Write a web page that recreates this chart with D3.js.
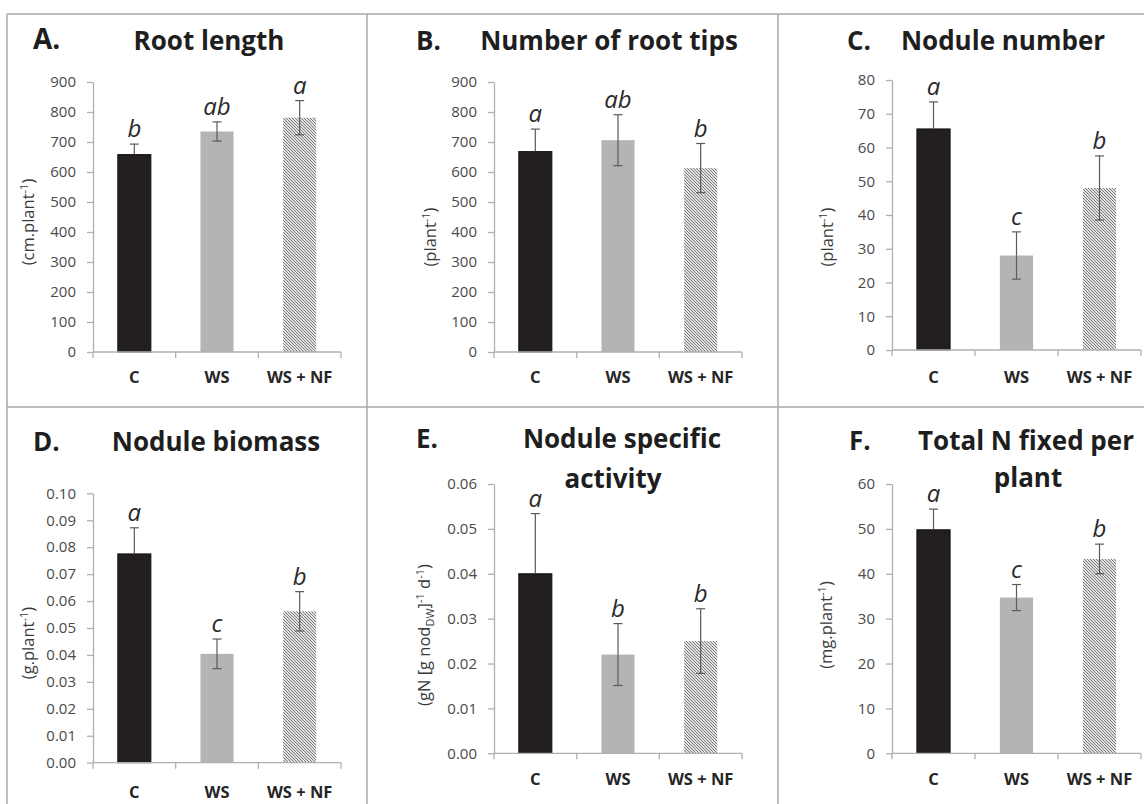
<!DOCTYPE html>
<html>
<head>
<meta charset="utf-8">
<script src="https://cdn.jsdelivr.net/npm/d3@7"></script>
<style>
  body { margin: 0; background: #fff; }
  svg { display: block; font-family: "Open Sans", sans-serif; }
</style>
</head>
<body>
<svg id="chart" width="1144" height="804"></svg>
<script>
//DATA
const categories = ["C", "WS", "WS + NF"];

const rootLength = [658, 735, 781];
const rootLengthErr = [35, 32, 57];
const rootLengthLetters = ["b", "ab", "a"];

const rootTips = [668, 706, 613];
const rootTipsErr = [75, 85, 82];
const rootTipsLetters = ["a", "ab", "b"];

const noduleNumber = [65.5, 28, 48];
const noduleNumberErr = [8, 7, 9.5];
const noduleNumberLetters = ["a", "c", "b"];

const noduleBiomass = [0.0775, 0.0404, 0.0562];
const noduleBiomassErr = [0.0097, 0.0055, 0.0073];
const noduleBiomassLetters = ["a", "c", "b"];

const specificActivity = [0.040, 0.022, 0.025];
const specificActivityErr = [0.0134, 0.0069, 0.0072];
const specificActivityLetters = ["a", "b", "b"];

const totalNFixed = [49.8, 34.7, 43.3];
const totalNFixedErr = [4.6, 2.9, 3.3];
const totalNFixedLetters = ["a", "c", "b"];

//tick labels
const ticks900 = [0, 100, 200, 300, 400, 500, 600, 700, 800, 900];
const ticks80 = [0, 10, 20, 30, 40, 50, 60, 70, 80];
const ticksBiomass = [0, 0.01, 0.02, 0.03, 0.04, 0.05, 0.06, 0.07, 0.08, 0.09, 0.10];
const ticksActivity = [0, 0.01, 0.02, 0.03, 0.04, 0.05, 0.06];
const ticks60 = [0, 10, 20, 30, 40, 50, 60];

//CONFIG
const barFills = ["#231f20", "#b4b4b4", "url(#hatch)"];
const barFraction = 0.4; //bar width relative to category step
const axisColor = "#b0b0b0";
const labelColor = "#4a4a4a";
const errColor = "#5a5a5a";

//one entry per panel; plot = [left, right, topPixel(max tick), zeroPixel]
const panels = [
  { key: "A.", title: ["Root length"], values: rootLength, err: rootLengthErr, letters: rootLengthLetters,
    ticks: ticks900, fmt: d3.format("d"), ylab: [["(cm.plant", 0], ["-1", 1], [")", 0]],
    plot: [93, 341, 82, 352], keyPos: [33, 49], titleX: [209], titleY: [50], ylabPos: [28, 222], xlabDy: 31, keySize: 28 },
  { key: "B.", title: ["Number of root tips"], values: rootTips, err: rootTipsErr, letters: rootTipsLetters,
    ticks: ticks900, fmt: d3.format("d"), ylab: [["(plant", 0], ["-1", 1], [")", 0]],
    plot: [494, 742, 82, 352], keyPos: [416, 50], titleX: [609], titleY: [50], ylabPos: [430, 237], xlabDy: 31, keySize: 26 },
  { key: "C.", title: ["Nodule number"], values: noduleNumber, err: noduleNumberErr, letters: noduleNumberLetters,
    ticks: ticks80, fmt: d3.format("d"), ylab: [["(plant", 0], ["-1", 1], [")", 0]],
    plot: [892, 1141, 80, 350], keyPos: [847, 50], titleX: [1003], titleY: [50], ylabPos: [827, 237], xlabDy: 33, keySize: 26 },
  { key: "D.", title: ["Nodule biomass"], values: noduleBiomass, err: noduleBiomassErr, letters: noduleBiomassLetters,
    ticks: ticksBiomass, fmt: d3.format(".2f"), ylab: [["(g.plant", 0], ["-1", 1], [")", 0]],
    plot: [93, 341, 493.3, 762.7], keyPos: [33, 451], titleX: [216], titleY: [451], ylabPos: [28, 643], xlabDy: 35, keySize: 26 },
  { key: "E.", title: ["Nodule specific", "activity"], values: specificActivity, err: specificActivityErr, letters: specificActivityLetters,
    ticks: ticksActivity, fmt: d3.format(".2f"),
    ylab: [["(gN [g nod", 0], ["DW", -1], ["]", 0], ["-1", 1], [" d", 0], ["-1", 1], [")", 0]],
    plot: [494, 742, 484, 753.3], keyPos: [416, 448], titleX: [622, 613], titleY: [448, 488], ylabPos: [424, 635], xlabDy: 32, keySize: 26 },
  { key: "F.", title: ["Total N fixed per", "plant"], values: totalNFixed, err: totalNFixedErr, letters: totalNFixedLetters,
    ticks: ticks60, fmt: d3.format("d"), ylab: [["(mg.plant", 0], ["-1", 1], [")", 0]],
    plot: [892, 1141, 484, 753.3], keyPos: [849, 450], titleX: [1026, 1028], titleY: [450, 487], ylabPos: [826, 625], xlabDy: 32, keySize: 26 }
];

const svg = d3.select("#chart");

//hatch pattern for WS + NF bars
const defs = svg.append("defs");
const pat = defs.append("pattern")
  .attr("id", "hatch")
  .attr("patternUnits", "userSpaceOnUse")
  .attr("width", 3)
  .attr("height", 3);
pat.append("rect").attr("width", 3).attr("height", 3).attr("fill", "#e2e2e2");
pat.append("path")
  .attr("d", "M0,0 L3,3 M-1,2 L1,4 M2,-1 L4,1")
  .attr("stroke", "#6f6f6f")
  .attr("stroke-width", 0.9);

//panel frame lines
const frame = svg.append("g").attr("stroke", "#a8a8a8").attr("stroke-width", 1.5);
frame.append("line").attr("x1", 7).attr("x2", 1144).attr("y1", 14).attr("y2", 14);
frame.append("line").attr("x1", 7).attr("x2", 1144).attr("y1", 407).attr("y2", 407);
[7, 367, 778].forEach(function (x) {
  frame.append("line").attr("x1", x).attr("x2", x).attr("y1", 14).attr("y2", 804);
});

panels.forEach(drawPanel);

function drawPanel(p) {
  const [left, right, top, zero] = p.plot;
  const maxTick = p.ticks[p.ticks.length - 1];

  const x = d3.scaleBand().domain(categories).range([left, right]).padding(0);
  const y = d3.scaleLinear().domain([0, maxTick]).range([zero, top]);

  const g = svg.append("g");

  // Y axis
  const yAxis = g.append("g")
    .attr("transform", "translate(" + left + ",0)")
    .call(d3.axisLeft(y).tickValues(p.ticks).tickFormat(p.fmt).tickSize(6).tickSizeOuter(0).tickPadding(11));
  yAxis.select(".domain").attr("stroke", axisColor).attr("stroke-width", 1.3);
  yAxis.selectAll(".tick line").attr("stroke", axisColor).attr("stroke-width", 1.3);
  yAxis.selectAll("text")
    .attr("fill", labelColor)
    .style("font-size", "15px")
    .style("font-family", "'Open Sans', sans-serif");

  // bars
  const bw = x.bandwidth() * barFraction;
  g.selectAll("rect.bar")
    .data(p.values)
    .enter()
    .append("rect")
    .attr("class", "bar")
    .attr("x", function (d, i) { return x(categories[i]) + (x.bandwidth() - bw) / 2; })
    .attr("y", function (d) { return y(d); })
    .attr("width", bw)
    .attr("height", function (d) { return zero - y(d); })
    .attr("fill", function (d, i) { return barFills[i]; })
    .attr("stroke", function (d, i) { return i === 0 ? "#111" : "none"; })
    .attr("stroke-width", 1);

  // error bars (lower half disappears inside the black bar)
  const cx = function (i) { return x(categories[i]) + x.bandwidth() / 2; };
  const eb = g.append("g").attr("stroke-width", 1.2);
  p.values.forEach(function (v, i) {
    const hi = y(v + p.err[i]);
    const mid = y(v);
    const lo = y(v - p.err[i]);
    const lowColor = i === 0 ? barFills[0] : errColor;
    eb.append("line").attr("stroke", errColor).attr("x1", cx(i)).attr("x2", cx(i)).attr("y1", hi).attr("y2", mid);
    eb.append("line").attr("stroke", errColor).attr("x1", cx(i) - 4.5).attr("x2", cx(i) + 4.5).attr("y1", hi).attr("y2", hi);
    eb.append("line").attr("stroke", lowColor).attr("x1", cx(i)).attr("x2", cx(i)).attr("y1", mid).attr("y2", lo);
    eb.append("line").attr("stroke", lowColor).attr("x1", cx(i) - 4.5).attr("x2", cx(i) + 4.5).attr("y1", lo).attr("y2", lo);
  });

  // significance letters
  g.selectAll("text.letter")
    .data(p.letters)
    .enter()
    .append("text")
    .attr("class", "letter")
    .attr("x", function (d, i) { return cx(i); })
    .attr("y", function (d, i) { return y(p.values[i] + p.err[i]) - 7; })
    .attr("text-anchor", "middle")
    .attr("fill", "#2a2a2a")
    .style("font-style", "italic")
    .style("font-size", "24px")
    .text(function (d) { return d; });

  // X axis: line, ticks between categories, bold labels
  g.append("line")
    .attr("x1", left).attr("x2", right).attr("y1", zero).attr("y2", zero)
    .attr("stroke", axisColor).attr("stroke-width", 1.3);
  d3.range(categories.length + 1).forEach(function (k) {
    const tx = x.range()[0] + k * x.step();
    g.append("line")
      .attr("x1", tx).attr("x2", tx).attr("y1", zero).attr("y2", zero + 6)
      .attr("stroke", axisColor).attr("stroke-width", 1.3);
  });
  g.selectAll("text.cat")
    .data(categories)
    .enter()
    .append("text")
    .attr("class", "cat")
    .attr("x", function (d) { return x(d) + x.bandwidth() / 2; })
    .attr("y", zero + p.xlabDy)
    .attr("text-anchor", "middle")
    .attr("fill", "#262626")
    .style("font-weight", "bold")
    .style("font-size", "16.5px")
    .text(function (d) { return d; });

  // Y axis title with super/subscripts
  const yl = g.append("text")
    .attr("transform", "translate(" + (p.ylabPos[0] + 6) + "," + p.ylabPos[1] + ") rotate(-90)")
    .attr("text-anchor", "middle")
    .attr("fill", "#3a3a3a")
    .style("font-size", "16.5px");
  let shift = 0;
  p.ylab.forEach(function (part) {
    const dy = part[1] === 1 ? -6 : part[1] === -1 ? 4 : 0;
    yl.append("tspan")
      .attr("dy", dy - shift)
      .style("font-size", part[1] === 0 ? "16.5px" : "11px")
      .text(part[0]);
    shift = dy;
  });

  // panel key and title
  g.append("text")
    .attr("x", p.keyPos[0])
    .attr("y", p.keyPos[1])
    .attr("fill", "#1e1e1e")
    .style("font-weight", "bold")
    .style("font-size", p.keySize + "px")
    .text(p.key);
  p.title.forEach(function (line, j) {
    g.append("text")
      .attr("x", p.titleX[j])
      .attr("y", p.titleY[j])
      .attr("text-anchor", "middle")
      .attr("fill", "#1e1e1e")
      .style("font-weight", "bold")
      .style("font-size", "26px")
      .text(line);
  });
}
</script>
</body>
</html>
